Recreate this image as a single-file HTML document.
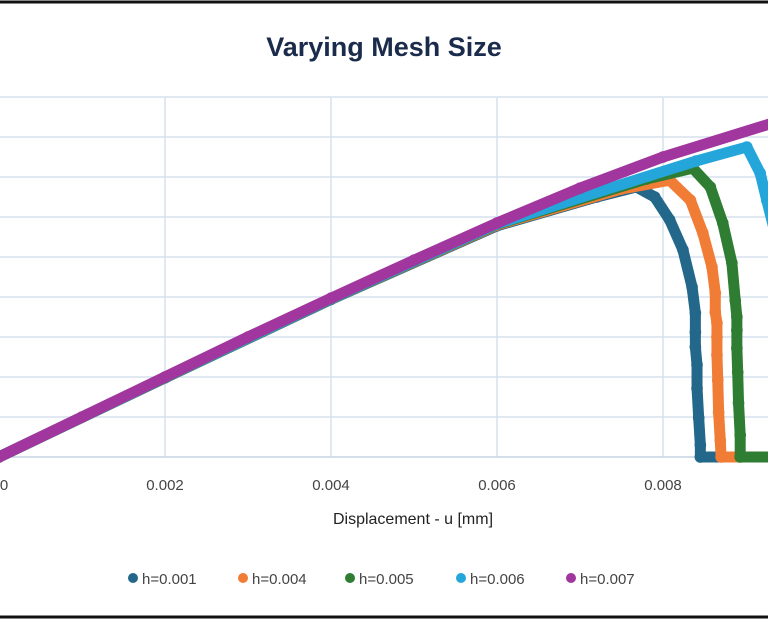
<!DOCTYPE html>
<html><head><meta charset="utf-8">
<style>
html,body{margin:0;padding:0;background:#fff;}
body{width:768px;height:619px;overflow:hidden;position:relative;font-family:"Liberation Sans",sans-serif;}
</style></head>
<body>
<svg id="chart" width="768" height="619" viewBox="0 0 768 619" xmlns="http://www.w3.org/2000/svg">
<rect x="0" y="0" width="768" height="619" fill="#fff"/>
<line x1="0" y1="2" x2="768" y2="2" stroke="#111" stroke-width="3"/>
<line x1="0" y1="617" x2="768" y2="617" stroke="#111" stroke-width="3"/>
<text x="384" y="56" text-anchor="middle" font-size="27" font-weight="bold" fill="#1b2b4b">Varying Mesh Size</text>
<g id="grid"></g>
<g id="series"></g>
<g id="xticks"></g>
<text x="413" y="524" text-anchor="middle" font-size="16" fill="#222">Displacement - u [mm]</text>
<g id="legend"></g>
</svg>
<script>
const xTicks=[0,0.002,0.004,0.006,0.008];
const xTickLabels=["0","0.002","0.004","0.006","0.008"];
const yGrid=[1,2,3,4,5,6,7,8,9];
const seriesNames=["h=0.001","h=0.004","h=0.005","h=0.006","h=0.007"];
const seriesColors=["#23678a","#f07c35","#2e7d32","#25a6db","#a0369e"];
const x001=[0,0.002,0.004,0.006,0.0072,0.00768,0.0079,0.00808,0.00824,0.00835,0.00839,0.00839,0.00839,0.00841,0.00841,0.00843,0.00845,0.00845,0.0095];
const y001=[0,1.98,3.94,5.78,6.5,6.75,6.5,5.93,5.18,4.25,3.6,3.12,2.75,2.3,1.72,0.98,0.3,0,0];
const x004=[0,0.002,0.004,0.006,0.0075,0.00808,0.00833,0.00848,0.00859,0.00863,0.00863,0.00865,0.00865,0.00865,0.00866,0.00867,0.00869,0.0087,0.0095];
const y004=[0,1.98,3.95,5.8,6.7,6.92,6.42,5.6,4.75,4.1,3.62,3.35,3.0,2.55,1.92,1.12,0.42,0,0];
const x005=[0,0.002,0.004,0.006,0.0078,0.00836,0.00857,0.00872,0.00883,0.00887,0.00889,0.00889,0.00889,0.0089,0.00891,0.00893,0.00893,0.0095];
const y005=[0,1.98,3.95,5.82,6.95,7.22,6.75,5.85,4.85,3.92,3.5,3.17,2.72,2.12,1.35,0.55,0,0];
const x006=[0,0.002,0.004,0.006,0.0084,0.00901,0.00917,0.00925,0.0094];
const y006=[0,1.99,3.96,5.83,7.4,7.75,7.1,6.42,5.2];
const x007=[0,0.001,0.002,0.003,0.004,0.005,0.006,0.007,0.008,0.0094];
const y007=[0,1.0,2.0,3.0,3.97,4.92,5.85,6.72,7.5,8.4];
const allX=[x001,x004,x005,x006,x007], allY=[y001,y004,y005,y006,y007];
const NS="http://www.w3.org/2000/svg";
const sx=v=>-1+v/0.002*166;
const sy=v=>457-40*v;
function mk(t,a,p){const e=document.createElementNS(NS,t);for(const k in a)e.setAttribute(k,a[k]);p.appendChild(e);return e;}
const grid=document.getElementById('grid');
yGrid.forEach(v=>{const l=mk('line',{x1:0,x2:768,y1:sy(v),y2:sy(v),stroke:'#d5e1ee','stroke-width':1.5},grid);

});
xTicks.forEach(v=>{if(v===0)return;const l=mk('line',{x1:sx(v),x2:sx(v),y1:98,y2:457,stroke:'#d5e1ee','stroke-width':1.5},grid);

});
const ax=mk('line',{x1:0,x2:768,y1:sy(0),y2:sy(0),stroke:'#c4d4e4','stroke-width':1.5},grid);


const xt=document.getElementById('xticks');
xTicks.forEach((v,i)=>{const t=mk('text',{x:Math.max(sx(v),4),y:490,'text-anchor':'middle','font-size':15,fill:'#444'},xt);t.textContent=xTickLabels[i];

});
const sg=document.getElementById('series');
allX.forEach((xs,i)=>{const g=mk('g',{},sg);


const pts=xs.map((x,j)=>sx(x)+','+sy(allY[i][j]));
mk('polyline',{points:pts.join(' '),fill:'none',stroke:seriesColors[i],'stroke-width':11,'stroke-linejoin':'round','stroke-linecap':'round'},g);
xs.forEach((x,j)=>{const c=mk('circle',{cx:sx(x),cy:sy(allY[i][j]),r:5.8,fill:seriesColors[i]},g);

});});
const lg=document.getElementById('legend');
const lx=[133,243,350,461,571];
seriesNames.forEach((n,i)=>{const g=mk('g',{},lg);


mk('circle',{cx:lx[i],cy:578,r:5,fill:seriesColors[i]},g);
const t=mk('text',{x:lx[i]+9,y:584,'font-size':15,fill:'#444'},g);t.textContent=n;});
</script>
</body></html>
